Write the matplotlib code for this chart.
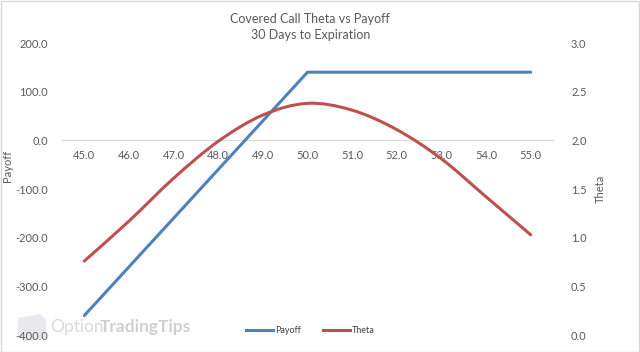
import matplotlib
matplotlib.use("Agg")
import matplotlib.pyplot as plt
from matplotlib.path import Path
from matplotlib.patches import PathPatch, Rectangle, Polygon
from matplotlib.lines import Line2D
import numpy as np

plt.rcParams['font.family'] = ['Lato', 'DejaVu Sans']

strikes = [45.0, 46.0, 47.0, 48.0, 49.0, 50.0, 51.0, 52.0, 53.0, 54.0, 55.0]
payoff = [-360, -260, -160, -60, 40, 140, 140, 140, 140, 140, 140]
theta = [0.76, 1.17, 1.61, 1.99, 2.26, 2.38, 2.31, 2.11, 1.81, 1.42, 1.03]

BLUE = '#4F81BD'
RED = '#C0504D'
GREY = '#595959'


def smooth_path(xs, ys):
    # excel style smoothed line: cubic bezier between neighbours
    pts = np.column_stack([xs, ys])
    verts = [pts[0]]
    codes = [Path.MOVETO]
    n = len(pts)
    for i in range(n - 1):
        p0 = pts[max(i - 1, 0)]
        p1 = pts[i]
        p2 = pts[i + 1]
        p3 = pts[min(i + 2, n - 1)]
        verts += [p1 + (p2 - p0) / 6, p2 - (p3 - p1) / 6, p2]
        codes += [Path.CURVE4] * 3
    return Path(verts, codes)


fig = plt.figure(figsize=(6.4, 3.52), dpi=100)
fig.subplots_adjust(left=62/640, right=553/640, top=1-43/352, bottom=1-335/352)

# watermark (behind everything)
fig.patches.append(Polygon([(18/640, 1-318/352), (40/640, 1-314/352), (46/640, 1-320/352),
                            (46/640, 1-338/352), (24/640, 1-342/352), (18/640, 1-336/352)],
                           closed=True, transform=fig.transFigure, facecolor='#E8E8EE',
                           edgecolor='none', zorder=-2))
fig.text(50/640, 1-327/352, 'Option', ha='left', va='center', fontsize=12.5,
         color='#DADADA', zorder=-2)
fig.text(100/640, 1-327/352, 'TradingTips', ha='left', va='center', fontsize=12.5,
         color='#D0D0D0', fontweight='bold', zorder=-2)

ax = fig.add_subplot(111)
ax.patch.set_alpha(0)
ax2 = ax.twinx()

ax.plot(strikes, payoff, color=BLUE, lw=2.2, solid_capstyle='round', zorder=3)
ax2.add_patch(PathPatch(smooth_path(strikes, theta), facecolor='none',
                        edgecolor=RED, lw=2.2, capstyle='round', zorder=3))

ax.set_xlim(44.5, 55.5)
ax.set_ylim(-400, 200)
ax2.set_ylim(0, 3)

ax.set_xticks(strikes)
ax.set_xticklabels(['%.1f' % s for s in strikes])
ax.set_yticks(np.arange(-400, 201, 100))
ax.set_yticklabels(['%.1f' % v for v in np.arange(-400, 201, 100)])
ax2.set_yticks(np.arange(0, 3.01, 0.5))
ax2.set_yticklabels(['%.1f' % v for v in np.arange(0, 3.01, 0.5)])

for a in (ax, ax2):
    for s in ('top', 'left', 'right', 'bottom'):
        a.spines[s].set_visible(False)
ax.spines['bottom'].set_visible(True)
ax.spines['bottom'].set_position(('data', 0))
ax.spines['bottom'].set_color('#D9D9D9')
ax.spines['bottom'].set_linewidth(0.8)

ax.tick_params(axis='x', length=0, pad=7, labelsize=8, labelcolor=GREY)
ax.tick_params(axis='y', length=0, pad=10, labelsize=8, labelcolor=GREY)
ax2.tick_params(axis='y', length=0, pad=13, labelsize=8, labelcolor=GREY)

ax.set_ylabel('Payoff', fontsize=8, color=GREY)
ax.yaxis.set_label_coords(-0.1, 0.58)
ax2.set_ylabel('Theta', fontsize=8, color=GREY)
ax2.yaxis.set_label_coords(1.085, 0.5)

fig.text(0.485, 0.945, 'Covered Call Theta vs Payoff', ha='center', va='center',
         fontsize=9, color=GREY)
fig.text(0.485, 0.9, '30 Days to Expiration', ha='center', va='center',
         fontsize=9, color=GREY)

handles = [Line2D([], [], color=BLUE, lw=2.2), Line2D([], [], color=RED, lw=2.2)]
fig.legend(handles, ['Payoff', 'Theta'], loc='center', bbox_to_anchor=(0.485, 0.06),
           ncol=2, frameon=False, fontsize=6.5, handlelength=3, handletextpad=0.2,
           columnspacing=2.4, labelcolor='#404040')

fig.patches.append(Rectangle((0.001, 0.001), 0.997, 0.996, transform=fig.transFigure,
                             fill=False, edgecolor='#D9D9D9', lw=1))

fig.savefig('out.png', dpi=100)
